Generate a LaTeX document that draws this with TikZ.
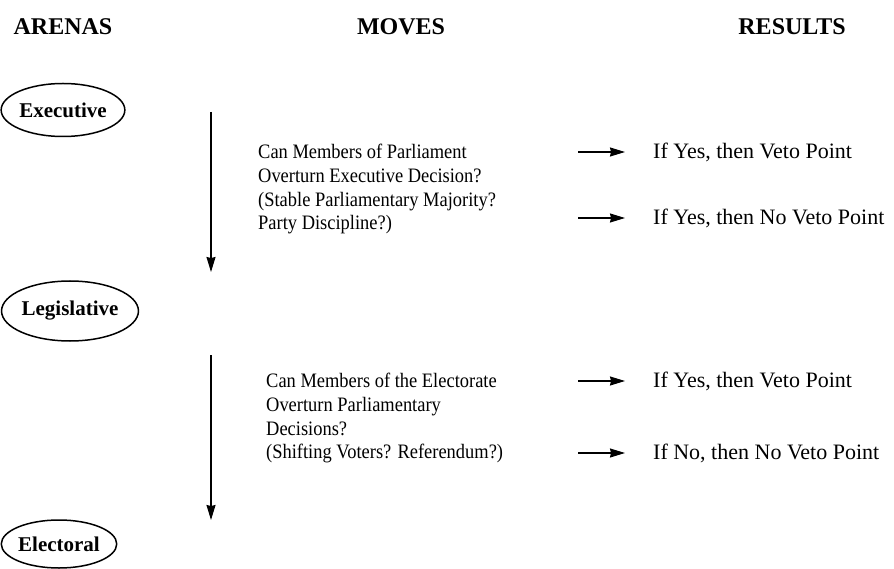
\documentclass[tikz,border=0pt]{standalone}
\usepackage{fontspec}
\setmainfont{Liberation Serif}
\newfontfamily\narrowserif[FakeStretch=0.9]{Liberation Serif}
\usetikzlibrary{shapes.geometric}
\usetikzlibrary{arrows.meta}

\begin{document}
\begin{tikzpicture}[>={Stealth[length=15pt,width=9pt,inset=1pt]},x=1pt,y=-1pt,
        head/.style={inner sep=0pt,font=\fontsize{24}{28}\selectfont\bfseries},
        arena/.style={draw,ellipse,line width=1.5pt,inner sep=0pt,font=\fontsize{21}{24}\selectfont\bfseries},
        move/.style={align=left,inner sep=0pt,anchor=north west,font=\narrowserif\fontsize{20.5}{23.7}\selectfont},
        res/.style={inner sep=0pt,anchor=west,font=\fontsize{22}{24}\selectfont}]
                        \useasboundingbox (0,0) rectangle (894,569);
                        \node[head] (arenas) at (63,27) {ARENAS};
                        \node[head] (moves) at (401,27) {MOVES};
                        \node[head] (results) at (792,27) {RESULTS};
                        \node[arena,minimum width=120pt,minimum height=53pt] (exec) at (63,110) {Executive};
                        \node[arena,minimum width=132pt,minimum height=60pt] (legis) at (70,311) {Legislative};
                        \node[arena,minimum width=106pt,minimum height=48pt] (elect) at (59,544) {Electoral};
                        \coordinate (s1) at (211,112);
                        \coordinate (e1) at (211,272);
                        \coordinate (s2) at (211,355);
                        \coordinate (e2) at (211,520);
                        \draw[->,line width=1.2pt] (s1) -- (e1);
                        \draw[->,line width=1.2pt] (s2) -- (e2);
                        \node[move] (q1) at (258,144) {Can Members of Parliament\\Overturn Executive Decision?\\(Stable Parliamentary Majority?\\Party Discipline?)};
                        \node[move] (q2) at (266,373) {Can Members of the Electorate\\Overturn Parliamentary\\Decisions?\\(Shifting Voters? Referendum?)};
                        \node[res] (r1) at (653,152) {If Yes, then Veto Point};
                        \node[res] (r2) at (653,218) {If Yes, then No Veto Point};
                        \node[res] (r3) at (653,381) {If Yes, then Veto Point};
                        \node[res] (r4) at (653,453) {If No, then No Veto Point};
                        \foreach \r in {r1,r2,r3,r4}
                            \draw[->,line width=1.2pt,shorten >=28pt] ([xshift=-75pt]\r.west) -- (\r.west);
                    \end{tikzpicture}
\end{document}
